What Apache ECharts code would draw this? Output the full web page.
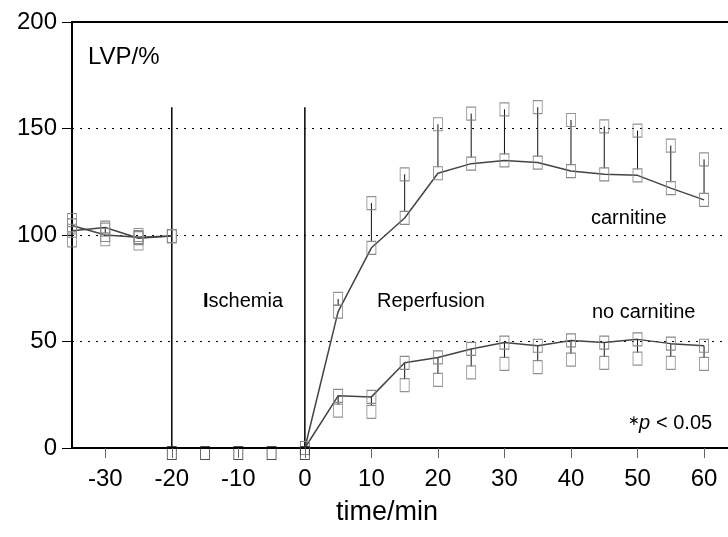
<!DOCTYPE html>
<html><head><meta charset="utf-8">
<script src="https://cdn.jsdelivr.net/npm/echarts@6/dist/echarts.min.js"></script>
<style>html,body{margin:0;padding:0;background:#fff}#c{width:728px;height:537px}</style>
</head><body><div id="c"></div>
<script>
// ---- data ----
const xTicks = [-30, -20, -10, 0, 10, 20, 30, 40, 50, 60];
const yTicks = [0, 50, 100, 150, 200];

const preTime = [-35, -30, -25, -20];
const carnPre = [104.5, 100, 99, 99.5];
const carnPreErr = [107, 102.5, 100, null];
const noCarnPre = [102, 103.5, 98.5, 99.5];
const noCarnPreErr = [97.5, 98, 96, null];

const ischTime = [-20, -15, -10, -5, 0];
const ischValue = [0, 0, 0, 0, 0];

const reperfTime = [0, 5, 10, 15, 20, 25, 30, 35, 40, 45, 50, 55, 60];
const carnMean = [0, 64, 94, 108, 129, 133.5, 135, 134, 130, 128.5, 128, 122, 116.5];
const carnUpper = [null, 70, 115, 128.5, 152, 157, 159, 160, 154, 151, 149, 142, 135.5];
const noCarnMean = [0, 24.5, 24, 40, 42.5, 46.5, 49.5, 48, 50.5, 49.5, 51, 49, 48];
const noCarnLower = [null, 17.5, 17, 29.5, 32, 35.5, 39.5, 38, 41.5, 40, 42, 40, 39.5];

const phaseLines = [-20, 0];
const phaseLineTop = 160;

// ---- build ----
const FONT = "'Liberation Sans', Arial, Helvetica, sans-serif";
const zip = (xs, ys) => xs.map((x, i) => [x, ys[i]]);

const errBars = [];
const errPts = [];
function addErr(xs, means, errs, dir) {
  xs.forEach((x, i) => {
    if (errs[i] == null) return;
    errBars.push([x, means[i], errs[i], dir]);
    errPts.push([x, errs[i]]);
  });
}
addErr(preTime, carnPre, carnPreErr, 1);
addErr(preTime, noCarnPre, noCarnPreErr, -1);
addErr(reperfTime, carnMean, carnUpper, 1);
addErr(reperfTime, noCarnMean, noCarnLower, -1);

const markerStyle = { color: 'rgba(255,255,255,0)', borderColor: '#888', borderWidth: 1 };
const meanLine = (name, data) => ({
  type: 'line', name, data, symbol: 'rect', symbolSize: [9, 13], showSymbol: true,
  lineStyle: { color: '#444', width: 1.5 }, itemStyle: markerStyle, clip: false, z: 3
});

const chart = echarts.init(document.getElementById('c'), null, { renderer: 'canvas' });
chart.setOption({
  animation: false,
  backgroundColor: '#fff',
  grid: { left: 72, right: 0, top: 22, bottom: 89, containLabel: false },
  xAxis: [{
    type: 'value', min: -35, max: 63.6, position: 'bottom',
    axisLine: { show: true, onZero: false, lineStyle: { color: '#000', width: 2 } },
    axisTick: { show: true, length: 10, customValues: xTicks, lineStyle: { color: '#666', width: 1 } },
    axisLabel: { show: true, customValues: xTicks, margin: 19, color: '#000', fontSize: 24, fontFamily: FONT },
    splitLine: { show: false }
  }, {
    type: 'value', min: -35, max: 63.6, position: 'top',
    axisLine: { show: true, onZero: false, lineStyle: { color: '#000', width: 2 } },
    axisTick: { show: false }, axisLabel: { show: false }, splitLine: { show: false }
  }],
  yAxis: {
    type: 'value', min: 0, max: 200, interval: 50,
    axisLine: { show: true, onZero: false, lineStyle: { color: '#000', width: 2 } },
    axisTick: { show: true, length: 10, lineStyle: { color: '#000', width: 1 } },
    axisLabel: { margin: 15, color: '#000', fontSize: 24, fontFamily: FONT },
    splitLine: { show: true, lineStyle: { color: '#000', width: 1, type: [2, 6] } }
  },
  series: [
    {
      type: 'custom', name: 'phase',
      data: phaseLines.map(x => [x, phaseLineTop]),
      renderItem: (params, api) => {
        const p0 = api.coord([api.value(0), 0]);
        const p1 = api.coord([api.value(0), api.value(1)]);
        return { type: 'line', shape: { x1: p0[0], y1: p0[1], x2: p1[0], y2: p1[1] },
          style: { stroke: '#000', lineWidth: 1.5 } };
      }, z: 2, clip: false
    },
    {
      type: 'custom', name: 'errbars', data: errBars, clip: false,
      renderItem: (params, api) => {
        const x = api.value(0), m = api.value(1), e = api.value(2), d = api.value(3);
        const pm = api.coord([x, m]);
        const pe = api.coord([x, e]);
        let y1, y2;
        if (d > 0) { y1 = pe[1]; y2 = pm[1] - 6; }
        else { y1 = pm[1]; y2 = pe[1] - 6; }
        if (y2 < y1) return null;
        return { type: 'line', shape: { x1: pm[0], y1, x2: pm[0], y2 },
          style: { stroke: '#111', lineWidth: 1 } };
      }, z: 2
    },
    {
      type: 'scatter', name: 'errpts', data: errPts, symbol: 'rect', symbolSize: [9, 13],
      itemStyle: { color: 'rgba(255,255,255,0)', borderColor: '#777', borderWidth: 1 }, clip: false, z: 3
    },
    meanLine('carnPre', zip(preTime, carnPre)),
    meanLine('noCarnPre', zip(preTime, noCarnPre)),
    meanLine('carnitine', zip(reperfTime, carnMean)),
    meanLine('no carnitine', zip(reperfTime, noCarnMean)),
    {
      type: 'scatter', name: 'ischemia', data: zip(ischTime, ischValue), symbol: 'rect',
      symbolSize: [9, 13], symbolOffset: [0, 5],
      itemStyle: { color: 'rgba(255,255,255,0)', borderColor: '#222', borderWidth: 1 }, clip: false, z: 4
    }
  ],
  graphic: [
    { type: 'text', left: 88, top: 45, style: { text: 'LVP/%', font: '24px ' + FONT, fill: '#000' } },
    { type: 'text', left: 203, top: 291, style: { text: '{b|I}{n|schemia}',
        rich: { b: { font: 'bold 20px ' + FONT, fill: '#000' }, n: { font: '20px ' + FONT, fill: '#000' } } } },
    { type: 'text', left: 377, top: 291, style: { text: 'Reperfusion', font: '20px ' + FONT, fill: '#000' } },
    { type: 'text', left: 591, top: 208, style: { text: 'carnitine', font: '20px ' + FONT, fill: '#000' } },
    { type: 'text', left: 592, top: 302, style: { text: 'no carnitine', font: '20px ' + FONT, fill: '#000' } },
    { type: 'text', left: 628, top: 414, style: { text: '\u2217', font: '14px ' + FONT, fill: '#000' } },
    { type: 'text', left: 639, top: 413, style: { text: 'p', font: 'italic 20px ' + FONT, fill: '#000' } },
    { type: 'text', left: 656, top: 413, style: { text: '< 0.05', font: '20px ' + FONT, fill: '#000' } },
    { type: 'text', left: 336, top: 499, style: { text: 'time/min', font: '27px ' + FONT, fill: '#000' } }
  ]
});
</script></body></html>
